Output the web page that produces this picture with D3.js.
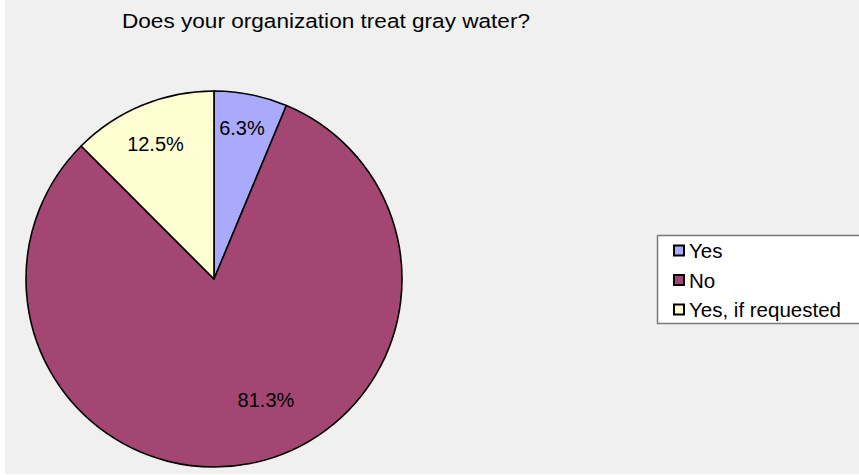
<!DOCTYPE html>
<html><head><meta charset="utf-8">
<script src="https://cdn.jsdelivr.net/npm/d3@7/dist/d3.min.js"></script>
<style>html,body{margin:0;padding:0;background:#fff;}svg{display:block;}</style>
</head><body>
<svg id="chart" width="859" height="475"></svg>
<script>
const categories = ["Yes", "No", "Yes, if requested"];
const values = [6.3, 81.3, 12.5];
const labels = ["6.3%", "81.3%", "12.5%"];
const colors = ["#aaaafc", "#a44672", "#fffdd2"];
const title = "Does your organization treat gray water?";

const FONT = "Liberation Sans, Arial, sans-serif";
const svg = d3.select("#chart");
const W = 859, H = 475;
svg.append("rect").attr("x", 5).attr("y", 0).attr("width", W - 5).attr("height", H - 1).attr("fill", "#f0f0f0");

svg.append("text").attr("x", 122).attr("y", 28)
  .attr("textLength", 408).attr("lengthAdjust", "spacingAndGlyphs")
  .attr("font-family", FONT).attr("font-size", 20).attr("fill", "#000")
  .text(title);

const cx = 214, cy = 279, R = 188;
const pie = d3.pie().value(d => d).sort(null);
const arcs = pie(values);
const arc = d3.arc().innerRadius(0).outerRadius(R);
const g = svg.append("g").attr("transform", `translate(${cx},${cy})`);
g.selectAll("path").data(arcs).join("path")
  .attr("d", arc).attr("fill", (d, i) => colors[i])
  .attr("stroke", "#000").attr("stroke-width", 1.6).attr("stroke-linejoin", "round");

// label placement: radius factor and angle shift per slice (style only)
const labelR = [0.819, 0.7005, 0.785];
const labelShift = [-0.015, -0.211, -0.0154];
const la = (d, i) => (d.startAngle + d.endAngle) / 2 + labelShift[i];
g.selectAll("text").data(arcs).join("text")
  .attr("x", (d, i) => Math.sin(la(d, i)) * R * labelR[i])
  .attr("y", (d, i) => -Math.cos(la(d, i)) * R * labelR[i])
  .attr("dy", "0.35em").attr("text-anchor", "middle")
  .attr("font-family", FONT).attr("font-size", 20).attr("fill", "#000")
  .text((d, i) => labels[i]);

// legend
const lg = svg.append("g");
lg.append("rect").attr("x", 657.5).attr("y", 235.5).attr("width", 210).attr("height", 88)
  .attr("fill", "#fff").attr("stroke", "#7a7a7a").attr("stroke-width", 1.5);
const ly = d3.scalePoint().domain(categories).range([251, 310]);
const item = lg.selectAll("g.item").data(categories).join("g").attr("class", "item")
  .attr("transform", d => `translate(0,${ly(d)})`);
item.append("rect").attr("x", 674).attr("y", -5.5).attr("width", 10).attr("height", 10)
  .attr("fill", (d, i) => colors[i]).attr("stroke", "#000").attr("stroke-width", 2);
item.append("text").attr("x", 689).attr("y", 0).attr("dy", "0.35em")
  .attr("font-family", FONT).attr("font-size", 20.5).attr("fill", "#000")
  .text(d => d);
</script>
</body></html>
